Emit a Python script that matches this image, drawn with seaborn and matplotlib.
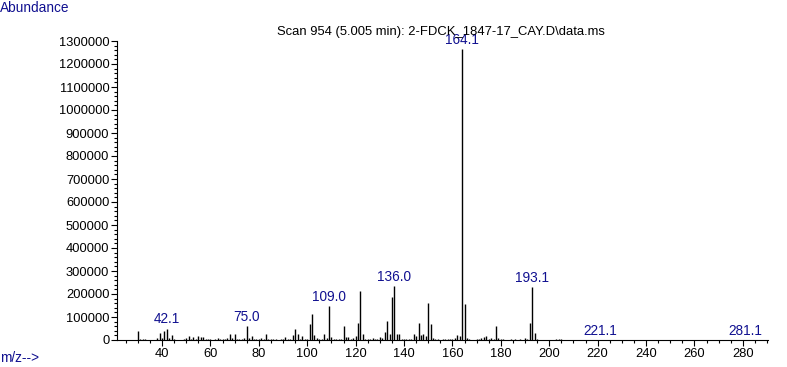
import numpy as np
import pandas as pd
import matplotlib
matplotlib.use('Agg')
import matplotlib.pyplot as plt
import seaborn as sns
from matplotlib.ticker import MultipleLocator

# --- spectrum data ---
mz = [30, 31, 32, 33, 36, 38, 39, 40, 41, 42, 43, 44, 45, 46, 49, 50, 51, 52, 53, 54,
      55, 56, 57, 58, 59, 60, 62, 63, 64, 65, 66, 67, 68, 69, 70, 71, 72, 73, 74, 75,
      76, 77, 78, 79, 80, 81, 82, 83, 84, 85, 86, 87, 89, 90, 91, 92, 93, 94, 95, 96,
      97, 98, 99, 100, 101, 102, 103, 104, 105, 106, 107, 108, 109, 110, 111, 112, 113, 114, 115, 116,
      117, 118, 119, 120, 121, 122, 123, 124, 125, 126, 127, 128, 129, 130, 131, 132, 133, 134, 135, 136,
      137, 138, 139, 140, 141, 142, 143, 144, 145, 146, 147, 148, 149, 150, 151, 152, 153, 154, 156, 157,
      158, 159, 160, 161, 162, 163, 164, 165, 166, 167, 170, 171, 172, 173, 174, 175, 176, 177, 178, 179,
      180, 181, 184, 186, 188, 190, 191, 192, 193, 194, 195, 203, 204, 205, 207, 221, 281]
abundance = [37000, 4000, 6000, 3000, 2000, 8000, 32000, 8000, 37000, 50000, 10000, 22000, 4000, 2000, 3000, 8000, 16000, 6000, 12000, 5000,
             18000, 12000, 15000, 6000, 4000, 3000, 5000, 9000, 3000, 6000, 4000, 8000, 24000, 10000, 28000, 6000, 3000, 4000, 8000, 60000,
             7000, 17000, 6000, 4000, 3000, 9000, 5000, 24000, 5000, 4000, 3000, 5000, 5000, 3000, 12000, 5000, 6000, 22000, 50000, 24000,
             6000, 17000, 5000, 6000, 68000, 115000, 22000, 8000, 6000, 5000, 25000, 9000, 148000, 13000, 5000, 4000, 4000, 6000, 59000, 12000,
             13000, 5000, 8000, 17000, 72000, 211000, 25000, 6000, 4000, 5000, 8000, 4000, 6000, 11000, 8000, 35000, 81000, 25000, 185000, 234000,
             26000, 24000, 5000, 4000, 4000, 3000, 5000, 26000, 16000, 72000, 20000, 26000, 16000, 160000, 69000, 9000, 5000, 4000, 5000, 4000,
             5000, 4000, 5000, 8000, 22000, 18000, 1265000, 156000, 9000, 3000, 5000, 6000, 9000, 12000, 16000, 5000, 8000, 5000, 62000, 8000,
             4000, 3000, 4000, 4000, 3000, 8000, 5000, 75000, 230000, 32000, 4000, 3000, 3000, 3000, 2000, 1500, 1500]

label_mz = [42, 75, 109, 136, 164, 193, 221, 281]
label_text = ['42.1', '75.0', '109.0', '136.0', '164.1', '193.1', '221.1', '281.1']

title = 'Scan 954 (5.005 min): 2-FDCK_1847-17_CAY.D\\data.ms'
blue = '#101090'

df = pd.DataFrame({'mz': mz, 'abundance': abundance})

sns.set_theme(style='ticks')
plt.rcParams['font.family'] = ['Liberation Sans', 'DejaVu Sans']

fig = plt.figure(figsize=(7.87, 3.67), dpi=100)
ax = fig.add_axes([117 / 787, 1 - 340 / 367, (768 - 117) / 787, (340 - 41) / 367])

ax.vlines(df['mz'], 0, df['abundance'], color='black', linewidth=1.0)

# peak labels just above the sticks
for m, t in zip(label_mz, label_text):
    h = df.loc[df['mz'] == m, 'abundance'].iloc[0]
    ax.annotate(t, (m, h), xytext=(0, 1.5), textcoords='offset points',
                ha='center', va='bottom', fontsize=9.8, color=blue)

ax.set_xlim(21.4, 290.4)
ax.set_ylim(0, 1300000)
ax.xaxis.set_minor_locator(MultipleLocator(5))
ax.yaxis.set_major_locator(MultipleLocator(100000))
ax.yaxis.set_minor_locator(MultipleLocator(20000))
ax.set_xticks([x for x in range(40, 300, 20)])
ax.yaxis.set_major_formatter(matplotlib.ticker.FuncFormatter(lambda v, p: f'{int(v)}'))

ax.tick_params(axis='both', which='major', length=4, width=0.8, color='black',
               labelsize=9.3, labelcolor='black', pad=1.5)
ax.tick_params(axis='both', which='minor', length=2.5, width=0.8, color='black')
sns.despine(ax=ax)
for s in ['left', 'bottom']:
    ax.spines[s].set_linewidth(0.8)
    ax.spines[s].set_color('black')
ax.set_xlabel('')
ax.set_ylabel('')

ax.set_title(title, fontsize=9.4, color='black', pad=4, x=0.497)

fig.text(0.0, 1 - 8 / 367, 'Abundance', ha='left', va='center', fontsize=9.8, color=blue)
fig.text(0.0, 1 - 358 / 367, 'm/z-->', ha='left', va='center', fontsize=9.8, color=blue)

fig.savefig('out.png', dpi=100, facecolor='white')
